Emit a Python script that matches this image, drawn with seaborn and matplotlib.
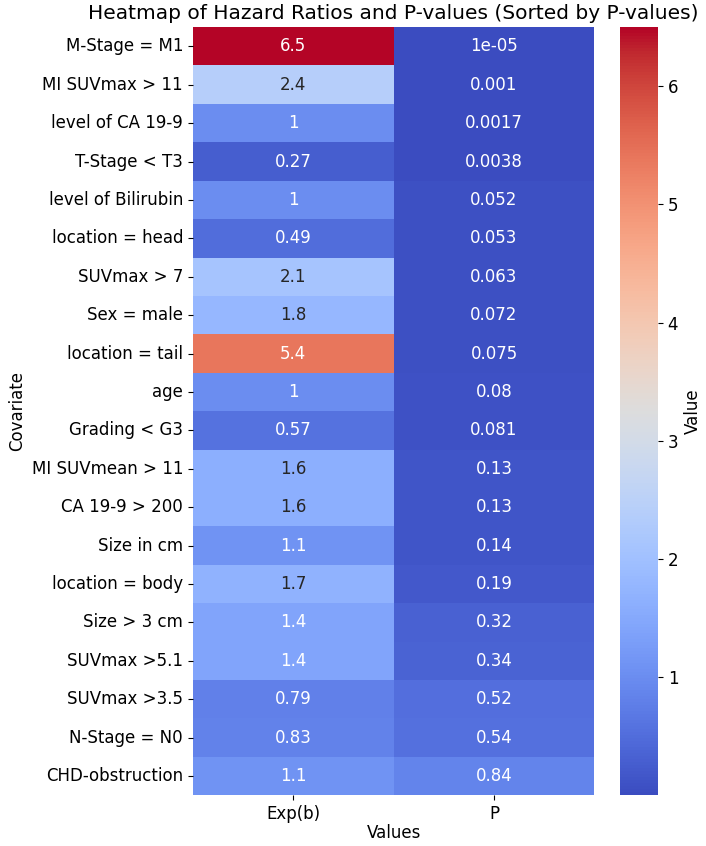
import matplotlib
matplotlib.use("Agg")
import matplotlib.pyplot as plt
import seaborn as sns
import pandas as pd

covariates = ["M-Stage = M1", "MI SUVmax > 11", "level of CA 19-9", "T-Stage < T3",
              "level of Bilirubin", "location = head", "SUVmax > 7", "Sex = male",
              "location = tail", "age", "Grading < G3", "MI SUVmean > 11",
              "CA 19-9 > 200", "Size in cm", "location = body", "Size > 3 cm",
              "SUVmax >5.1", "SUVmax >3.5", "N-Stage = N0", "CHD-obstruction"]
exp_b = [6.5, 2.4, 1.0, 0.27, 1.0, 0.49, 2.1, 1.8, 5.4, 1.0, 0.57, 1.6,
         1.6, 1.1, 1.7, 1.4, 1.4, 0.79, 0.83, 1.1]
p_values = [1e-05, 0.001, 0.0017, 0.0038, 0.052, 0.053, 0.063, 0.072, 0.075, 0.08,
            0.081, 0.13, 0.13, 0.14, 0.19, 0.32, 0.34, 0.52, 0.54, 0.84]

df = pd.DataFrame({"Exp(b)": exp_b, "P": p_values}, index=covariates)
df.index.name = "Covariate"
df.columns.name = "Values"

fig = plt.figure(figsize=(7.06, 8.46), dpi=100)
ax = fig.add_axes([0.273, 0.060, 0.569, 0.908])
cax = fig.add_axes([0.878, 0.060, 0.054, 0.908])
sns.heatmap(df, annot=True, cmap="coolwarm", ax=ax, cbar_ax=cax,
            cbar_kws={"label": "Value"}, annot_kws={"fontsize": 12})
ax.set_title("Heatmap of Hazard Ratios and P-values (Sorted by P-values)", fontsize=14.5)
ax.set_xlabel("Values", fontsize=12, labelpad=1)
ax.set_ylabel("Covariate", fontsize=12)
ax.tick_params(labelsize=12)
ax.set_yticklabels(ax.get_yticklabels(), rotation=0)
cax.tick_params(labelsize=12)
cax.yaxis.label.set_size(12)

fig.savefig("out.png", dpi=100)
